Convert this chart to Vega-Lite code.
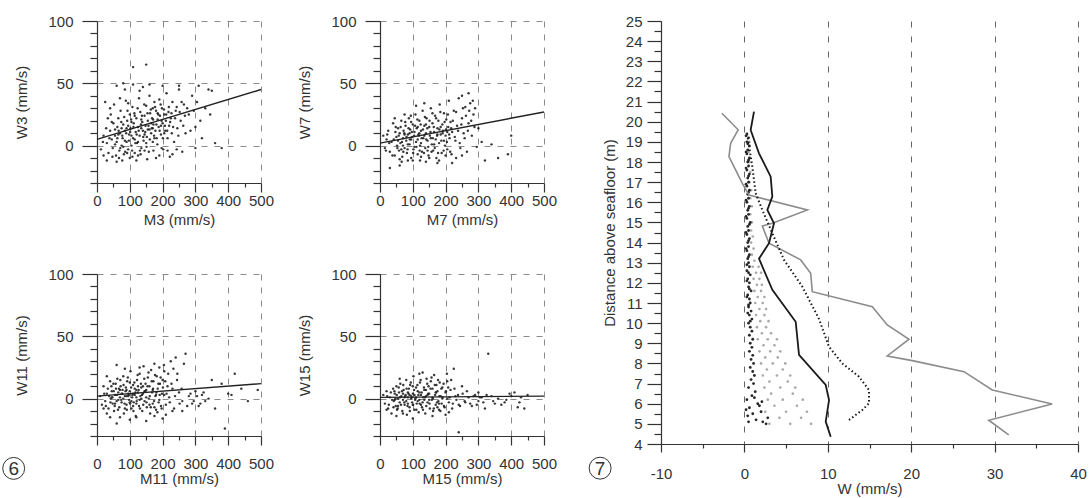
{
  "$schema": "https://vega.github.io/schema/vega-lite/v6.json",
  "padding": {"left": 0, "top": 14, "right": 5, "bottom": 5},
  "background": "white",
  "config": {
    "view": {"stroke": null},
    "font": "Liberation Sans",
    "axis": {
      "domainColor": "#333", "tickColor": "#333", "labelColor": "#333", "titleColor": "#333",
      "labelFont": "Liberation Sans", "titleFont": "Liberation Sans", "titleFontWeight": "normal",
      "labelFontSize": 15, "titleFontSize": 15, "domainWidth": 1.2, "tickWidth": 1.2
    }
  },
  "datasets": {
    "w3": [
      {"m":12,"w":-3},{"m":20,"w":8},{"m":25,"w":35},{"m":30,"w":2},{"m":35,"w":-6},{"m":40,"w":12},{"m":42,"w":25},{"m":45,"w":5},{"m":48,"w":-2},{"m":50,"w":18},
      {"m":52,"w":33},{"m":55,"w":8},{"m":58,"w":-8},{"m":60,"w":3},{"m":62,"w":15},{"m":65,"w":22},{"m":68,"w":-4},{"m":70,"w":10},{"m":72,"w":28},{"m":75,"w":0},
      {"m":78,"w":6},{"m":80,"w":17},{"m":82,"w":-7},{"m":85,"w":12},{"m":88,"w":36},{"m":90,"w":3},{"m":92,"w":20},{"m":95,"w":-3},{"m":98,"w":9},{"m":100,"w":25},
      {"m":102,"w":14},{"m":105,"w":0},{"m":108,"w":31},{"m":110,"w":6},{"m":112,"w":18},{"m":115,"w":-6},{"m":118,"w":11},{"m":120,"w":22},{"m":122,"w":2},{"m":125,"w":15},
      {"m":128,"w":38},{"m":130,"w":8},{"m":132,"w":27},{"m":135,"w":-2},{"m":138,"w":19},{"m":140,"w":12},{"m":142,"w":4},{"m":145,"w":24},{"m":148,"w":16},{"m":150,"w":32},
      {"m":152,"w":7},{"m":155,"w":20},{"m":158,"w":-5},{"m":160,"w":13},{"m":162,"w":26},{"m":165,"w":10},{"m":168,"w":22},{"m":170,"w":3},{"m":172,"w":17},{"m":175,"w":35},
      {"m":178,"w":12},{"m":180,"w":28},{"m":182,"w":6},{"m":185,"w":21},{"m":188,"w":15},{"m":190,"w":-8},{"m":192,"w":24},{"m":195,"w":9},{"m":198,"w":30},{"m":200,"w":18},
      {"m":202,"w":-3},{"m":205,"w":25},{"m":208,"w":12},{"m":210,"w":20},{"m":212,"w":42},{"m":215,"w":6},{"m":218,"w":27},{"m":220,"w":16},{"m":222,"w":-9},{"m":225,"w":22},
      {"m":228,"w":10},{"m":230,"w":35},{"m":235,"w":3},{"m":240,"w":28},{"m":245,"w":14},{"m":250,"w":45},{"m":255,"w":20},{"m":260,"w":-5},{"m":265,"w":33},{"m":270,"w":10},
      {"m":280,"w":25},{"m":290,"w":40},{"m":300,"w":15},{"m":310,"w":48},{"m":320,"w":6},{"m":340,"w":45},{"m":350,"w":44},{"m":360,"w":2},{"m":380,"w":-2},{"m":300,"w":-2},
      {"m":60,"w":48},{"m":80,"w":50},{"m":110,"w":49},{"m":140,"w":47},{"m":160,"w":49},{"m":200,"w":48},{"m":250,"w":48},{"m":110,"w":63},{"m":150,"w":65},{"m":20,"w":-8},
      {"m":30,"w":-12},{"m":120,"w":-12},{"m":180,"w":-10},{"m":100,"w":-10},{"m":60,"w":-13},{"m":230,"w":-7},{"m":215,"w":-4},{"m":70,"w":38},{"m":95,"w":34},{"m":40,"w":30},
      {"m":160,"w":40},{"m":190,"w":37},{"m":130,"w":44},{"m":85,"w":45},{"m":115,"w":5},{"m":135,"w":14},{"m":150,"w":2},{"m":170,"w":30},{"m":125,"w":-8},{"m":90,"w":14},
      {"m":55,"w":1},{"m":65,"w":9},{"m":75,"w":14},{"m":85,"w":4},{"m":95,"w":16},{"m":105,"w":8},{"m":115,"w":24},{"m":125,"w":3},{"m":135,"w":21},{"m":145,"w":9},
      {"m":155,"w":13},{"m":165,"w":18},{"m":175,"w":6},{"m":185,"w":26},{"m":195,"w":16},{"m":205,"w":10},{"m":145,"w":-4},{"m":105,"w":19},{"m":80,"w":-1},{"m":170,"w":14},
      {"m":62,"w":6},{"m":66,"w":12},{"m":71,"w":-2},{"m":74,"w":19},{"m":77,"w":8},{"m":83,"w":23},{"m":86,"w":-5},{"m":89,"w":10},{"m":93,"w":28},{"m":97,"w":4},
      {"m":101,"w":11},{"m":104,"w":21},{"m":107,"w":-4},{"m":111,"w":15},{"m":114,"w":26},{"m":117,"w":2},{"m":121,"w":9},{"m":124,"w":30},{"m":127,"w":12},{"m":131,"w":-4},
      {"m":134,"w":17},{"m":137,"w":24},{"m":141,"w":7},{"m":144,"w":33},{"m":147,"w":11},{"m":151,"w":-1},{"m":154,"w":26},{"m":157,"w":16},{"m":161,"w":5},{"m":164,"w":29},
      {"m":167,"w":14},{"m":171,"w":21},{"m":174,"w":8},{"m":177,"w":31},{"m":181,"w":17},{"m":184,"w":1},{"m":187,"w":25},{"m":191,"w":12},{"m":194,"w":33},{"m":197,"w":20},
      {"m":201,"w":6},{"m":204,"w":29},{"m":207,"w":16},{"m":211,"w":25},{"m":214,"w":12},{"m":219,"w":31},{"m":223,"w":19},{"m":227,"w":26},{"m":232,"w":15},{"m":238,"w":22},
      {"m":243,"w":31},{"m":248,"w":8},{"m":252,"w":27},{"m":258,"w":35},{"m":263,"w":16},{"m":268,"w":24},{"m":275,"w":30},{"m":285,"w":12},{"m":295,"w":28},{"m":305,"w":35},
      {"m":315,"w":20},{"m":330,"w":30},{"m":345,"w":25},{"m":55,"w":13},{"m":45,"w":19},{"m":38,"w":6},{"m":28,"w":14},{"m":33,"w":22},{"m":18,"w":3},{"m":47,"w":-9},
      {"m":67,"w":-10},{"m":77,"w":-12},{"m":92,"w":-6},{"m":108,"w":-9},{"m":133,"w":-7},{"m":153,"w":-11},{"m":172,"w":-4},{"m":197,"w":-2},{"m":243,"w":-3}
    ],
    "w3fit": [{"m":0,"w":5},{"m":500,"w":45}],
    "w7": [
      {"m":10,"w":8},{"m":15,"w":-2},{"m":20,"w":5},{"m":25,"w":12},{"m":30,"w":-5},{"m":35,"w":3},{"m":40,"w":18},{"m":45,"w":-8},{"m":50,"w":7},{"m":52,"w":0},
      {"m":55,"w":14},{"m":58,"w":-4},{"m":60,"w":10},{"m":62,"w":2},{"m":65,"w":20},{"m":68,"w":-9},{"m":70,"w":6},{"m":72,"w":12},{"m":75,"w":-2},{"m":78,"w":16},
      {"m":80,"w":4},{"m":82,"w":-6},{"m":85,"w":9},{"m":88,"w":22},{"m":90,"w":1},{"m":92,"w":13},{"m":95,"w":-10},{"m":98,"w":7},{"m":100,"w":17},{"m":102,"w":-3},
      {"m":105,"w":11},{"m":108,"w":25},{"m":110,"w":3},{"m":112,"w":14},{"m":115,"w":-7},{"m":118,"w":8},{"m":120,"w":20},{"m":122,"w":0},{"m":125,"w":12},{"m":128,"w":-5},
      {"m":130,"w":28},{"m":132,"w":6},{"m":135,"w":16},{"m":138,"w":-2},{"m":140,"w":10},{"m":142,"w":22},{"m":145,"w":4},{"m":148,"w":-8},{"m":150,"w":15},{"m":152,"w":8},
      {"m":155,"w":30},{"m":158,"w":1},{"m":160,"w":18},{"m":162,"w":-4},{"m":165,"w":11},{"m":168,"w":24},{"m":170,"w":5},{"m":172,"w":-10},{"m":175,"w":14},{"m":178,"w":20},
      {"m":180,"w":2},{"m":182,"w":33},{"m":185,"w":9},{"m":188,"w":-6},{"m":190,"w":17},{"m":192,"w":12},{"m":195,"w":26},{"m":198,"w":0},{"m":200,"w":8},{"m":202,"w":21},
      {"m":205,"w":-3},{"m":208,"w":15},{"m":210,"w":36},{"m":212,"w":6},{"m":215,"w":19},{"m":218,"w":-7},{"m":220,"w":11},{"m":225,"w":28},{"m":230,"w":4},{"m":235,"w":16},
      {"m":240,"w":38},{"m":245,"w":-2},{"m":250,"w":22},{"m":255,"w":10},{"m":260,"w":31},{"m":265,"w":-5},{"m":270,"w":18},{"m":275,"w":34},{"m":280,"w":8},{"m":285,"w":25},
      {"m":290,"w":30},{"m":295,"w":-1},{"m":300,"w":14},{"m":310,"w":3},{"m":320,"w":-12},{"m":340,"w":1},{"m":360,"w":-10},{"m":390,"w":-7},{"m":400,"w":8},{"m":220,"w":-14},
      {"m":100,"w":-12},{"m":60,"w":-16},{"m":30,"w":-18},{"m":140,"w":-13},{"m":180,"w":-12},{"m":45,"w":22},{"m":75,"w":25},{"m":110,"w":32},{"m":135,"w":34},{"m":250,"w":40},
      {"m":270,"w":42},{"m":60,"w":-11},{"m":95,"w":19},{"m":125,"w":-9},{"m":160,"w":26},{"m":85,"w":-12},{"m":200,"w":-8},{"m":150,"w":-10},{"m":250,"w":-8},{"m":115,"w":5},
      {"m":55,"w":4},{"m":65,"w":-3},{"m":75,"w":9},{"m":85,"w":1},{"m":95,"w":5},{"m":105,"w":-1},{"m":115,"w":15},{"m":125,"w":2},{"m":135,"w":8},{"m":145,"w":-4},
      {"m":155,"w":6},{"m":165,"w":1},{"m":175,"w":9},{"m":185,"w":15},{"m":195,"w":4},{"m":205,"w":11},{"m":120,"w":10},{"m":90,"w":10},{"m":140,"w":17},{"m":70,"w":0},
      {"m":42,"w":5},{"m":47,"w":11},{"m":53,"w":-2},{"m":57,"w":8},{"m":63,"w":15},{"m":67,"w":3},{"m":71,"w":-5},{"m":74,"w":10},{"m":77,"w":19},{"m":81,"w":7},
      {"m":84,"w":-3},{"m":87,"w":14},{"m":91,"w":5},{"m":94,"w":24},{"m":97,"w":11},{"m":101,"w":-6},{"m":104,"w":8},{"m":107,"w":16},{"m":111,"w":-1},{"m":114,"w":21},
      {"m":117,"w":9},{"m":121,"w":-4},{"m":124,"w":17},{"m":127,"w":6},{"m":131,"w":13},{"m":134,"w":-6},{"m":137,"w":23},{"m":141,"w":5},{"m":144,"w":14},{"m":147,"w":-1},
      {"m":151,"w":20},{"m":154,"w":11},{"m":157,"w":-5},{"m":161,"w":6},{"m":164,"w":15},{"m":167,"w":-2},{"m":171,"w":22},{"m":174,"w":8},{"m":177,"w":-6},{"m":181,"w":13},
      {"m":184,"w":27},{"m":187,"w":4},{"m":191,"w":10},{"m":194,"w":-4},{"m":197,"w":19},{"m":201,"w":13},{"m":204,"w":3},{"m":207,"w":25},{"m":211,"w":9},{"m":214,"w":-5},
      {"m":217,"w":14},{"m":222,"w":20},{"m":228,"w":7},{"m":232,"w":27},{"m":238,"w":12},{"m":243,"w":2},{"m":248,"w":17},{"m":253,"w":30},{"m":258,"w":6},{"m":262,"w":24},
      {"m":268,"w":12},{"m":272,"w":28},{"m":278,"w":20},{"m":283,"w":36},{"m":288,"w":15},{"m":232,"w":-10},{"m":175,"w":-14},{"m":122,"w":-12},{"m":66,"w":-13},{"m":38,"w":-8},
      {"m":28,"w":2},{"m":22,"w":9},{"m":18,"w":-4},{"m":48,"w":15}
    ],
    "w7fit": [{"m":0,"w":2},{"m":500,"w":27}],
    "w11": [
      {"m":10,"w":2},{"m":15,"w":-5},{"m":20,"w":10},{"m":25,"w":-2},{"m":30,"w":4},{"m":35,"w":-8},{"m":40,"w":14},{"m":42,"w":0},{"m":45,"w":6},{"m":48,"w":-4},
      {"m":50,"w":12},{"m":52,"w":-10},{"m":55,"w":3},{"m":58,"w":8},{"m":60,"w":-2},{"m":62,"w":16},{"m":65,"w":5},{"m":68,"w":-7},{"m":70,"w":1},{"m":72,"w":10},
      {"m":75,"w":-3},{"m":78,"w":7},{"m":80,"w":18},{"m":82,"w":-12},{"m":85,"w":2},{"m":88,"w":9},{"m":90,"w":-5},{"m":92,"w":14},{"m":95,"w":4},{"m":98,"w":-1},
      {"m":100,"w":6},{"m":102,"w":22},{"m":105,"w":-8},{"m":108,"w":3},{"m":110,"w":11},{"m":112,"w":-3},{"m":115,"w":8},{"m":118,"w":-14},{"m":120,"w":1},{"m":122,"w":15},
      {"m":125,"w":5},{"m":128,"w":-6},{"m":130,"w":20},{"m":132,"w":2},{"m":135,"w":9},{"m":138,"w":-10},{"m":140,"w":4},{"m":142,"w":26},{"m":145,"w":-2},{"m":148,"w":12},
      {"m":150,"w":7},{"m":152,"w":-7},{"m":155,"w":17},{"m":158,"w":0},{"m":160,"w":10},{"m":162,"w":-12},{"m":165,"w":23},{"m":168,"w":5},{"m":170,"w":-4},{"m":172,"w":14},
      {"m":175,"w":28},{"m":178,"w":2},{"m":180,"w":-9},{"m":182,"w":18},{"m":185,"w":8},{"m":188,"w":-3},{"m":190,"w":25},{"m":192,"w":12},{"m":195,"w":-6},{"m":198,"w":4},
      {"m":200,"w":15},{"m":205,"w":22},{"m":210,"w":-5},{"m":215,"w":10},{"m":220,"w":1},{"m":225,"w":30},{"m":230,"w":8},{"m":235,"w":-8},{"m":240,"w":33},{"m":250,"w":5},
      {"m":260,"w":-2},{"m":270,"w":36},{"m":280,"w":2},{"m":290,"w":-4},{"m":300,"w":6},{"m":310,"w":-6},{"m":320,"w":3},{"m":330,"w":-2},{"m":350,"w":15},{"m":360,"w":-8},
      {"m":380,"w":12},{"m":390,"w":-24},{"m":400,"w":4},{"m":410,"w":3},{"m":420,"w":20},{"m":440,"w":8},{"m":460,"w":-2},{"m":490,"w":7},{"m":150,"w":-18},{"m":100,"w":-17},
      {"m":60,"w":-20},{"m":40,"w":-15},{"m":210,"w":-13},{"m":260,"w":-10},{"m":245,"w":20},{"m":130,"w":25},{"m":85,"w":24},{"m":60,"w":27},{"m":30,"w":18},{"m":200,"w":-16},
      {"m":95,"w":2},{"m":105,"w":-2},{"m":115,"w":3},{"m":75,"w":4},{"m":120,"w":-4},{"m":135,"w":0},{"m":90,"w":7},{"m":65,"w":-1},{"m":110,"w":-6},{"m":125,"w":10},
      {"m":55,"w":-4},{"m":70,"w":7},{"m":80,"w":0},{"m":90,"w":2},{"m":100,"w":-3},{"m":110,"w":4},{"m":120,"w":7},{"m":130,"w":-1},{"m":140,"w":10},{"m":150,"w":1},
      {"m":160,"w":-5},{"m":170,"w":7},{"m":180,"w":3},{"m":190,"w":-1},{"m":45,"w":1},{"m":85,"w":-8},{"m":100,"w":13},{"m":145,"w":6},{"m":175,"w":-7},{"m":205,"w":3},
      {"m":22,"w":4},{"m":27,"w":-6},{"m":33,"w":8},{"m":37,"w":2},{"m":41,"w":-3},{"m":44,"w":10},{"m":47,"w":1},{"m":51,"w":6},{"m":54,"w":-6},{"m":57,"w":12},
      {"m":61,"w":3},{"m":64,"w":-9},{"m":67,"w":8},{"m":71,"w":15},{"m":74,"w":-1},{"m":77,"w":4},{"m":81,"w":11},{"m":84,"w":-4},{"m":87,"w":6},{"m":91,"w":-9},
      {"m":94,"w":17},{"m":97,"w":3},{"m":101,"w":-4},{"m":104,"w":9},{"m":107,"w":1},{"m":111,"w":-10},{"m":114,"w":13},{"m":117,"w":5},{"m":121,"w":-2},{"m":124,"w":19},
      {"m":127,"w":7},{"m":131,"w":-8},{"m":134,"w":12},{"m":137,"w":3},{"m":141,"w":-5},{"m":144,"w":16},{"m":147,"w":6},{"m":151,"w":-3},{"m":154,"w":10},{"m":157,"w":21},
      {"m":161,"w":2},{"m":164,"w":-7},{"m":167,"w":14},{"m":171,"w":8},{"m":174,"w":-2},{"m":177,"w":19},{"m":181,"w":5},{"m":184,"w":-11},{"m":187,"w":12},{"m":191,"w":3},
      {"m":194,"w":17},{"m":197,"w":-8},{"m":201,"w":9},{"m":204,"w":27},{"m":208,"w":14},{"m":212,"w":4},{"m":217,"w":20},{"m":222,"w":-3},{"m":227,"w":12},{"m":233,"w":24},
      {"m":238,"w":2},{"m":244,"w":15},{"m":252,"w":-4},{"m":258,"w":8},{"m":265,"w":28},{"m":275,"w":-6},{"m":285,"w":4},{"m":295,"w":-2},{"m":305,"w":2},{"m":315,"w":-4},
      {"m":325,"w":5},{"m":340,"w":0},{"m":20,"w":-8},{"m":30,"w":-12},{"m":70,"w":-15},{"m":120,"w":-15},{"m":175,"w":-14},{"m":230,"w":-10}
    ],
    "w11fit": [{"m":0,"w":2},{"m":500,"w":12}],
    "w15": [
      {"m":10,"w":3},{"m":15,"w":-4},{"m":20,"w":6},{"m":25,"w":-8},{"m":30,"w":1},{"m":35,"w":-12},{"m":40,"w":8},{"m":42,"w":-2},{"m":45,"w":4},{"m":48,"w":-6},
      {"m":50,"w":10},{"m":52,"w":-9},{"m":55,"w":0},{"m":58,"w":5},{"m":60,"w":-3},{"m":62,"w":12},{"m":65,"w":2},{"m":68,"w":-10},{"m":70,"w":-1},{"m":72,"w":7},
      {"m":75,"w":-5},{"m":78,"w":3},{"m":80,"w":15},{"m":82,"w":-13},{"m":85,"w":1},{"m":88,"w":8},{"m":90,"w":-7},{"m":92,"w":11},{"m":95,"w":2},{"m":98,"w":-3},
      {"m":100,"w":4},{"m":102,"w":18},{"m":105,"w":-9},{"m":108,"w":0},{"m":110,"w":9},{"m":112,"w":-4},{"m":115,"w":6},{"m":118,"w":-11},{"m":120,"w":-1},{"m":122,"w":13},
      {"m":125,"w":3},{"m":128,"w":-7},{"m":130,"w":21},{"m":132,"w":1},{"m":135,"w":7},{"m":138,"w":-12},{"m":140,"w":2},{"m":142,"w":16},{"m":145,"w":-3},{"m":148,"w":10},
      {"m":150,"w":4},{"m":152,"w":-8},{"m":155,"w":14},{"m":158,"w":-1},{"m":160,"w":8},{"m":162,"w":-10},{"m":165,"w":19},{"m":168,"w":3},{"m":170,"w":-5},{"m":172,"w":11},
      {"m":175,"w":6},{"m":178,"w":-2},{"m":180,"w":-9},{"m":182,"w":13},{"m":185,"w":2},{"m":188,"w":-4},{"m":190,"w":9},{"m":195,"w":-6},{"m":200,"w":5},{"m":205,"w":14},
      {"m":210,"w":-3},{"m":215,"w":7},{"m":220,"w":-8},{"m":225,"w":24},{"m":230,"w":2},{"m":240,"w":-5},{"m":250,"w":10},{"m":260,"w":-3},{"m":270,"w":1},{"m":280,"w":-6},
      {"m":290,"w":3},{"m":300,"w":-2},{"m":310,"w":1},{"m":320,"w":-8},{"m":340,"w":2},{"m":350,"w":-4},{"m":360,"w":0},{"m":380,"w":-3},{"m":400,"w":2},{"m":410,"w":5},
      {"m":420,"w":-7},{"m":430,"w":1},{"m":440,"w":-8},{"m":450,"w":3},{"m":330,"w":36},{"m":240,"w":-27},{"m":120,"w":20},{"m":60,"w":16},{"m":100,"w":-16},{"m":200,"w":-13},
      {"m":50,"w":-14},{"m":300,"w":5},{"m":370,"w":-5},{"m":95,"w":0},{"m":105,"w":3},{"m":115,"w":-2},{"m":75,"w":1},{"m":125,"w":-5},{"m":135,"w":-1},{"m":85,"w":-4},
      {"m":55,"w":-6},{"m":70,"w":4},{"m":80,"w":-2},{"m":90,"w":3},{"m":100,"w":-5},{"m":110,"w":1},{"m":120,"w":5},{"m":130,"w":-3},{"m":140,"w":7},{"m":150,"w":-1},
      {"m":160,"w":1},{"m":170,"w":5},{"m":180,"w":-4},{"m":190,"w":0},{"m":45,"w":-1},{"m":85,"w":5},{"m":100,"w":10},{"m":145,"w":3},{"m":175,"w":-7},{"m":205,"w":0},
      {"m":22,"w":2},{"m":27,"w":-5},{"m":33,"w":5},{"m":37,"w":-1},{"m":41,"w":-7},{"m":44,"w":6},{"m":47,"w":0},{"m":51,"w":3},{"m":54,"w":-8},{"m":57,"w":9},
      {"m":61,"w":1},{"m":64,"w":-5},{"m":67,"w":6},{"m":71,"w":11},{"m":74,"w":-3},{"m":77,"w":2},{"m":81,"w":8},{"m":84,"w":-6},{"m":87,"w":4},{"m":91,"w":-10},
      {"m":94,"w":13},{"m":97,"w":1},{"m":101,"w":-5},{"m":104,"w":7},{"m":107,"w":-1},{"m":111,"w":-9},{"m":114,"w":11},{"m":117,"w":3},{"m":121,"w":-4},{"m":124,"w":15},
      {"m":127,"w":5},{"m":131,"w":-9},{"m":134,"w":9},{"m":137,"w":1},{"m":141,"w":-6},{"m":144,"w":12},{"m":147,"w":4},{"m":151,"w":-4},{"m":154,"w":8},{"m":157,"w":17},
      {"m":161,"w":0},{"m":164,"w":-8},{"m":167,"w":11},{"m":171,"w":5},{"m":174,"w":-3},{"m":177,"w":15},{"m":181,"w":2},{"m":184,"w":-10},{"m":187,"w":8},{"m":191,"w":1},
      {"m":194,"w":12},{"m":197,"w":-7},{"m":201,"w":6},{"m":204,"w":20},{"m":208,"w":9},{"m":212,"w":1},{"m":217,"w":15},{"m":222,"w":-4},{"m":227,"w":8},{"m":233,"w":-1},
      {"m":238,"w":3},{"m":244,"w":-6},{"m":252,"w":4},{"m":258,"w":-2},{"m":265,"w":6},{"m":275,"w":-4},{"m":285,"w":2},{"m":295,"w":-5},{"m":305,"w":1},{"m":315,"w":-3},
      {"m":325,"w":3},{"m":345,"w":-2},{"m":385,"w":-1},{"m":395,"w":4},{"m":425,"w":-3},{"m":20,"w":-9},{"m":70,"w":-12},{"m":160,"w":-14},{"m":210,"w":-11}
    ],
    "w15fit": [{"m":0,"w":1},{"m":500,"w":2}],
    "lab6": [{"m":-254,"w":-56,"t":"6"}],
    "lab7": [{"x":-17.3,"y":2.8,"t":"7"}],
    "pgray": [
      {"x":-2.7,"y":20.42},{"x":-0.75,"y":19.6},{"x":-1.65,"y":18.93},{"x":-1.85,"y":18.27},{"x":-0.25,"y":16.94},{"x":0.55,"y":16.36},
      {"x":7.55,"y":15.62},{"x":3.35,"y":14.96},{"x":2.15,"y":14.82},{"x":2.95,"y":13.97},{"x":6.75,"y":13.14},{"x":7.95,"y":12.48},
      {"x":8.14,"y":11.56},{"x":15.34,"y":10.82},{"x":17.13,"y":9.91},{"x":19.74,"y":9.2},{"x":17.13,"y":8.37},{"x":20.13,"y":8.14},
      {"x":26.33,"y":7.59},{"x":29.72,"y":6.68},{"x":36.9,"y":5.99},{"x":29.3,"y":5.18},{"x":31.7,"y":4.45}
    ],
    "pblack": [
      {"x":1.15,"y":20.5},{"x":0.75,"y":19.59},{"x":1.75,"y":18.43},{"x":3.15,"y":17.27},{"x":3.35,"y":16.28},{"x":2.75,"y":15.62},
      {"x":3.55,"y":14.96},{"x":2.95,"y":13.97},{"x":1.75,"y":13.2},{"x":3.35,"y":11.65},{"x":6.15,"y":10.07},{"x":6.55,"y":8.42},
      {"x":9.75,"y":6.93},{"x":10.15,"y":6.18},{"x":9.75,"y":5.11},{"x":10.35,"y":4.36}
    ],
    "pdot": [
      {"x":0.35,"y":19.34},{"x":0.95,"y":17.77},{"x":1.35,"y":16.45},{"x":2.15,"y":15.62},{"x":3.35,"y":14.46},{"x":4.75,"y":13.14},
      {"x":6.95,"y":11.81},{"x":8.95,"y":10.2},{"x":10.14,"y":8.83},{"x":11.74,"y":8.0},{"x":13.74,"y":7.34},{"x":14.94,"y":6.68},
      {"x":14.94,"y":6.02},{"x":14.14,"y":5.69},{"x":12.54,"y":5.19}
    ],
    "dblack": [
      {"x":0.3,"y":19.4},{"x":0.5,"y":19.2},{"x":0.3,"y":19.0},{"x":0.6,"y":18.8},{"x":0.4,"y":18.6},{"x":0.3,"y":18.4},{"x":0.6,"y":18.2},{"x":0.4,"y":18.0},
      {"x":0.5,"y":17.8},{"x":0.3,"y":17.6},{"x":0.6,"y":17.4},{"x":0.4,"y":17.2},{"x":0.5,"y":17.0},{"x":0.3,"y":16.8},{"x":0.6,"y":16.6},{"x":0.4,"y":16.4},
      {"x":0.5,"y":16.2},{"x":0.3,"y":16.0},{"x":0.6,"y":15.8},{"x":0.4,"y":15.6},{"x":0.5,"y":15.4},{"x":0.3,"y":15.2},{"x":0.7,"y":15.0},{"x":0.4,"y":14.8},
      {"x":0.5,"y":14.6},{"x":0.3,"y":14.4},{"x":0.6,"y":14.2},{"x":0.4,"y":14.0},{"x":0.5,"y":13.8},{"x":0.3,"y":13.6},{"x":0.6,"y":13.4},{"x":0.4,"y":13.2},
      {"x":0.5,"y":13.0},{"x":0.6,"y":12.8},{"x":0.3,"y":12.6},{"x":0.7,"y":12.4},{"x":0.4,"y":12.2},{"x":0.6,"y":12.0},{"x":0.5,"y":11.8},{"x":0.8,"y":11.6},
      {"x":0.4,"y":11.4},{"x":0.6,"y":11.2},{"x":0.7,"y":11.0},{"x":0.5,"y":10.8},{"x":0.8,"y":10.6},{"x":0.6,"y":10.4},{"x":0.9,"y":10.2},{"x":0.5,"y":10.0},
      {"x":0.7,"y":9.8},{"x":0.9,"y":9.6},{"x":0.6,"y":9.4},{"x":1.0,"y":9.2},{"x":0.7,"y":9.0},{"x":0.9,"y":8.8},{"x":0.6,"y":8.6},{"x":1.0,"y":8.4},
      {"x":0.8,"y":8.2},{"x":1.1,"y":8.0},{"x":0.7,"y":7.8},{"x":1.0,"y":7.6},{"x":1.2,"y":7.4},{"x":0.8,"y":7.2},{"x":1.1,"y":7.0},{"x":0.5,"y":6.8},
      {"x":1.3,"y":6.6},{"x":0.9,"y":6.4},{"x":0.3,"y":6.2},{"x":1.6,"y":6.0},{"x":0.6,"y":5.8},{"x":2.0,"y":5.6},{"x":0.4,"y":5.4},{"x":1.4,"y":5.2},
      {"x":2.6,"y":5.0},{"x":0.2,"y":5.7},{"x":1.0,"y":5.5},{"x":2.2,"y":5.1},{"x":1.8,"y":5.9},{"x":0.5,"y":5.1},{"x":2.8,"y":5.3},{"x":1.2,"y":6.3},{"x":2.1,"y":6.1},
      {"x":0.2,"y":19.3},{"x":0.4,"y":18.9},{"x":0.2,"y":18.5},{"x":0.5,"y":18.1},{"x":0.2,"y":17.7},{"x":0.5,"y":17.3},{"x":0.2,"y":16.9},{"x":0.5,"y":16.5},
      {"x":0.2,"y":16.1},{"x":0.5,"y":15.7},{"x":0.2,"y":15.3},{"x":0.6,"y":14.9},{"x":0.2,"y":14.5},{"x":0.5,"y":14.1},{"x":0.2,"y":13.7},{"x":0.5,"y":13.3},
      {"x":0.3,"y":12.9},{"x":0.5,"y":12.5},{"x":0.3,"y":12.1},{"x":0.6,"y":11.7},{"x":0.3,"y":11.3},{"x":0.5,"y":10.9},{"x":0.4,"y":10.5},{"x":0.7,"y":10.1}
    ],
    "dgray": [
      {"x":3.0,"y":5.0},{"x":5.5,"y":5.0},{"x":8.0,"y":5.0},{"x":4.2,"y":5.3},{"x":6.8,"y":5.3},{"x":2.5,"y":5.6},{"x":5.0,"y":5.6},{"x":7.5,"y":5.6},
      {"x":3.6,"y":5.9},{"x":6.3,"y":5.9},{"x":2.8,"y":6.2},{"x":4.6,"y":6.2},{"x":7.0,"y":6.2},{"x":3.2,"y":6.5},{"x":5.8,"y":6.5},{"x":2.4,"y":6.8},
      {"x":4.3,"y":6.8},{"x":6.1,"y":6.8},{"x":3.0,"y":7.1},{"x":5.2,"y":7.1},{"x":2.2,"y":7.4},{"x":3.9,"y":7.4},{"x":5.5,"y":7.4},{"x":2.7,"y":7.7},
      {"x":4.6,"y":7.7},{"x":2.0,"y":8.0},{"x":3.4,"y":8.0},{"x":4.9,"y":8.0},{"x":2.5,"y":8.3},{"x":4.0,"y":8.3},{"x":1.8,"y":8.6},{"x":3.1,"y":8.6},
      {"x":4.3,"y":8.6},{"x":2.3,"y":8.9},{"x":3.6,"y":8.9},{"x":1.6,"y":9.2},{"x":2.8,"y":9.2},{"x":3.9,"y":9.2},{"x":2.1,"y":9.5},{"x":3.2,"y":9.5},
      {"x":1.5,"y":9.8},{"x":2.6,"y":9.8},{"x":1.9,"y":10.1},{"x":2.9,"y":10.1},{"x":1.4,"y":10.4},{"x":2.4,"y":10.4},{"x":1.8,"y":10.7},{"x":2.6,"y":10.7},
      {"x":1.3,"y":11.0},{"x":2.2,"y":11.0},{"x":1.6,"y":11.3},{"x":2.4,"y":11.3},{"x":1.2,"y":11.6},{"x":2.0,"y":11.6},{"x":1.5,"y":11.9},{"x":2.1,"y":11.9},
      {"x":1.1,"y":12.2},{"x":1.8,"y":12.2},{"x":1.4,"y":12.5},{"x":2.0,"y":12.5},{"x":1.0,"y":12.8},{"x":1.7,"y":12.8},{"x":1.2,"y":13.1},{"x":0.9,"y":13.4},
      {"x":1.1,"y":13.7},{"x":0.8,"y":14.0},{"x":1.0,"y":14.3},{"x":0.8,"y":14.6},{"x":0.9,"y":15.0},{"x":0.7,"y":15.4},{"x":0.9,"y":15.8},{"x":0.7,"y":16.2},
      {"x":0.8,"y":16.6},{"x":0.6,"y":17.0},{"x":0.7,"y":17.5},{"x":0.6,"y":18.0},{"x":0.5,"y":18.5},{"x":0.6,"y":19.0}
    ]
  },
  "hconcat": [
    {
      "vconcat": [
        {
          "hconcat": [
            {
              "width": 164, "height": 162,
              "resolve": {"axis": {"x": "independent", "y": "independent"}},
              "layer": [
                {"data": {"name": "w3"}, "mark": {"type": "circle", "size": 6, "color": "#222", "opacity": 0.9},
                 "encoding": {
                   "x": {"field": "m", "type": "quantitative", "scale": {"domain": [0, 500], "nice": false, "zero": false},
                         "axis": {"orient": "bottom", "title": "M3 (mm/s)", "values": [0,100,200,300,400,500], "labelOverlap": false, "labelFlush": false, "labelPadding": 1, "tickSize": 9, "grid": true, "gridDash": [6, 7], "gridColor": "#8a8a8a", "titlePadding": 4}},
                   "y": {"field": "w", "type": "quantitative", "scale": {"domain": [-30, 100], "nice": false, "zero": false},
                         "axis": {"orient": "left", "title": "W3 (mm/s)", "values": [0,50,100], "labelOverlap": false, "labelFlush": false, "labelPadding": 9, "tickSize": 15, "grid": true, "gridDash": [6, 7], "gridColor": "#8a8a8a", "titlePadding": 18}}
                 }},
                {"data": {"name": "w3fit"}, "mark": {"type": "line", "color": "#222", "strokeWidth": 1.4},
                 "encoding": {
                   "x": {"field": "m", "type": "quantitative", "axis": {"orient": "bottom", "values": [50,150,250,350,450], "labels": false, "domain": false, "grid": false, "title": null, "tickSize": 4}},
                   "y": {"field": "w", "type": "quantitative", "axis": {"orient": "left", "values": [-30,-20,-10,10,20,30,40,60,70,80,90], "labels": false, "domain": false, "grid": false, "title": null, "tickSize": 7}}
                 }}
              ]
            },
            {
              "width": 164, "height": 162,
              "resolve": {"axis": {"x": "independent", "y": "independent"}},
              "layer": [
                {"data": {"name": "w7"}, "mark": {"type": "circle", "size": 6, "color": "#222", "opacity": 0.9},
                 "encoding": {
                   "x": {"field": "m", "type": "quantitative", "scale": {"domain": [0, 500], "nice": false, "zero": false},
                         "axis": {"orient": "bottom", "title": "M7 (mm/s)", "values": [0,100,200,300,400,500], "labelOverlap": false, "labelFlush": false, "labelPadding": 1, "tickSize": 9, "grid": true, "gridDash": [6, 7], "gridColor": "#8a8a8a", "titlePadding": 4}},
                   "y": {"field": "w", "type": "quantitative", "scale": {"domain": [-30, 100], "nice": false, "zero": false},
                         "axis": {"orient": "left", "title": "W7 (mm/s)", "values": [0,50,100], "labelOverlap": false, "labelFlush": false, "labelPadding": 9, "tickSize": 15, "grid": true, "gridDash": [6, 7], "gridColor": "#8a8a8a", "titlePadding": 18}}
                 }},
                {"data": {"name": "w7fit"}, "mark": {"type": "line", "color": "#222", "strokeWidth": 1.4},
                 "encoding": {
                   "x": {"field": "m", "type": "quantitative", "axis": {"orient": "bottom", "values": [50,150,250,350,450], "labels": false, "domain": false, "grid": false, "title": null, "tickSize": 4}},
                   "y": {"field": "w", "type": "quantitative", "axis": {"orient": "left", "values": [-30,-20,-10,10,20,30,40,60,70,80,90], "labels": false, "domain": false, "grid": false, "title": null, "tickSize": 7}}
                 }}
              ]
            }
          ],
          "spacing": 23
        },
        {
          "hconcat": [
            {
              "width": 164, "height": 162,
              "resolve": {"axis": {"x": "independent", "y": "independent"}},
              "layer": [
                {"data": {"name": "w11"}, "mark": {"type": "circle", "size": 6, "color": "#222", "opacity": 0.9},
                 "encoding": {
                   "x": {"field": "m", "type": "quantitative", "scale": {"domain": [0, 500], "nice": false, "zero": false},
                         "axis": {"orient": "bottom", "title": "M11 (mm/s)", "values": [0,100,200,300,400,500], "labelOverlap": false, "labelFlush": false, "labelPadding": 11, "tickSize": 9, "grid": true, "gridDash": [6, 7], "gridColor": "#8a8a8a", "titlePadding": 0}},
                   "y": {"field": "w", "type": "quantitative", "scale": {"domain": [-30, 100], "nice": false, "zero": false},
                         "axis": {"orient": "left", "title": "W11 (mm/s)", "values": [0,50,100], "labelOverlap": false, "labelFlush": false, "labelPadding": 9, "tickSize": 15, "grid": true, "gridDash": [6, 7], "gridColor": "#8a8a8a", "titlePadding": 18}}
                 }},
                {"data": {"name": "w11fit"}, "mark": {"type": "line", "color": "#222", "strokeWidth": 1.4},
                 "encoding": {
                   "x": {"field": "m", "type": "quantitative", "axis": {"orient": "bottom", "values": [50,150,250,350,450], "labels": false, "domain": false, "grid": false, "title": null, "tickSize": 4}},
                   "y": {"field": "w", "type": "quantitative", "axis": {"orient": "left", "values": [-30,-20,-10,10,20,30,40,60,70,80,90], "labels": false, "domain": false, "grid": false, "title": null, "tickSize": 7}}
                 }},
                {"data": {"name": "lab6"}, "mark": {"type": "point", "shape": "circle", "size": 480, "filled": false, "color": "#333", "strokeWidth": 1, "opacity": 1},
                 "encoding": {"x": {"field": "m", "type": "quantitative", "axis": null}, "y": {"field": "w", "type": "quantitative", "axis": null}}},
                {"data": {"name": "lab6"}, "mark": {"type": "text", "fontSize": 19, "color": "#333", "baseline": "middle", "align": "center", "dy": 1},
                 "encoding": {"x": {"field": "m", "type": "quantitative", "axis": null}, "y": {"field": "w", "type": "quantitative", "axis": null}, "text": {"field": "t"}}}
              ]
            },
            {
              "width": 164, "height": 162,
              "resolve": {"axis": {"x": "independent", "y": "independent"}},
              "layer": [
                {"data": {"name": "w15"}, "mark": {"type": "circle", "size": 6, "color": "#222", "opacity": 0.9},
                 "encoding": {
                   "x": {"field": "m", "type": "quantitative", "scale": {"domain": [0, 500], "nice": false, "zero": false},
                         "axis": {"orient": "bottom", "title": "M15 (mm/s)", "values": [0,100,200,300,400,500], "labelOverlap": false, "labelFlush": false, "labelPadding": 11, "tickSize": 9, "grid": true, "gridDash": [6, 7], "gridColor": "#8a8a8a", "titlePadding": 0}},
                   "y": {"field": "w", "type": "quantitative", "scale": {"domain": [-30, 100], "nice": false, "zero": false},
                         "axis": {"orient": "left", "title": "W15 (mm/s)", "values": [0,50,100], "labelOverlap": false, "labelFlush": false, "labelPadding": 9, "tickSize": 15, "grid": true, "gridDash": [6, 7], "gridColor": "#8a8a8a", "titlePadding": 18}}
                 }},
                {"data": {"name": "w15fit"}, "mark": {"type": "line", "color": "#222", "strokeWidth": 1.4},
                 "encoding": {
                   "x": {"field": "m", "type": "quantitative", "axis": {"orient": "bottom", "values": [50,150,250,350,450], "labels": false, "domain": false, "grid": false, "title": null, "tickSize": 4}},
                   "y": {"field": "w", "type": "quantitative", "axis": {"orient": "left", "values": [-30,-20,-10,10,20,30,40,60,70,80,90], "labels": false, "domain": false, "grid": false, "title": null, "tickSize": 7}}
                 }}
              ]
            }
          ],
          "spacing": 23
        }
      ],
      "spacing": 40
    },
    {
      "width": 417, "height": 423,
      "resolve": {"axis": {"x": "independent", "y": "independent"}},
      "layer": [
        {"data": {"name": "dgray"}, "mark": {"type": "circle", "size": 7, "color": "#9a9a9a", "opacity": 0.85},
         "encoding": {
           "x": {"field": "x", "type": "quantitative", "scale": {"domain": [-10, 40], "nice": false, "zero": false},
                 "axis": {"orient": "bottom", "title": "W (mm/s)", "values": [-10,0,10,20,30,40], "labelExpr": "datum.value == -10 ? '-10' : datum.label", "labelOverlap": false, "labelFlush": false, "labelPadding": 14, "tickSize": 8, "grid": true, "gridDash": [6, 9], "gridColor": "#666", "titlePadding": 0}},
           "y": {"field": "y", "type": "quantitative", "scale": {"domain": [4, 25], "nice": false, "zero": false},
                 "axis": {"orient": "left", "title": "Distance above seafloor (m)", "values": [4,5,6,7,8,9,10,11,12,13,14,15,16,17,18,19,20,21,22,23,24,25], "labelOverlap": false, "labelFlush": false, "labelPadding": 5, "tickSize": 14, "grid": false, "titlePadding": 8}}
         }},
        {"data": {"name": "dblack"}, "mark": {"type": "circle", "size": 8, "color": "#111", "opacity": 0.9},
         "encoding": {
           "x": {"field": "x", "type": "quantitative", "axis": {"orient": "bottom", "values": [-5,5,15,25,35], "labels": false, "domain": false, "grid": false, "title": null, "tickSize": 4}},
           "y": {"field": "y", "type": "quantitative", "axis": {"orient": "left", "values": [4.5,5.5,6.5,7.5,8.5,9.5,10.5,11.5,12.5,13.5,14.5,15.5,16.5,17.5,18.5,19.5,20.5,21.5,22.5,23.5,24.5], "labels": false, "domain": false, "grid": false, "title": null, "tickSize": 7}}
         }},
        {"data": {"name": "pgray"}, "mark": {"type": "line", "color": "#8c8c8c", "strokeWidth": 1.6},
         "encoding": {"x": {"field": "x", "type": "quantitative", "axis": null}, "y": {"field": "y", "type": "quantitative", "axis": null}, "order": {"field": "y", "type": "quantitative"}}},
        {"data": {"name": "pblack"}, "mark": {"type": "line", "color": "#1a1a1a", "strokeWidth": 1.8},
         "encoding": {"x": {"field": "x", "type": "quantitative", "axis": null}, "y": {"field": "y", "type": "quantitative", "axis": null}, "order": {"field": "y", "type": "quantitative"}}},
        {"data": {"name": "pdot"}, "mark": {"type": "line", "color": "#1a1a1a", "strokeWidth": 2, "strokeDash": [1.5, 2.5]},
         "encoding": {"x": {"field": "x", "type": "quantitative", "axis": null}, "y": {"field": "y", "type": "quantitative", "axis": null}, "order": {"field": "y", "type": "quantitative"}}},
        {"data": {"name": "lab7"}, "mark": {"type": "point", "shape": "circle", "size": 480, "filled": false, "color": "#333", "strokeWidth": 1, "opacity": 1},
         "encoding": {"x": {"field": "x", "type": "quantitative", "axis": null}, "y": {"field": "y", "type": "quantitative", "axis": null}}},
        {"data": {"name": "lab7"}, "mark": {"type": "text", "fontSize": 19, "color": "#333", "baseline": "middle", "align": "center", "dy": 1},
         "encoding": {"x": {"field": "x", "type": "quantitative", "axis": null}, "y": {"field": "y", "type": "quantitative", "axis": null}, "text": {"field": "t"}}}
      ]
    }
  ],
  "spacing": 30
}
